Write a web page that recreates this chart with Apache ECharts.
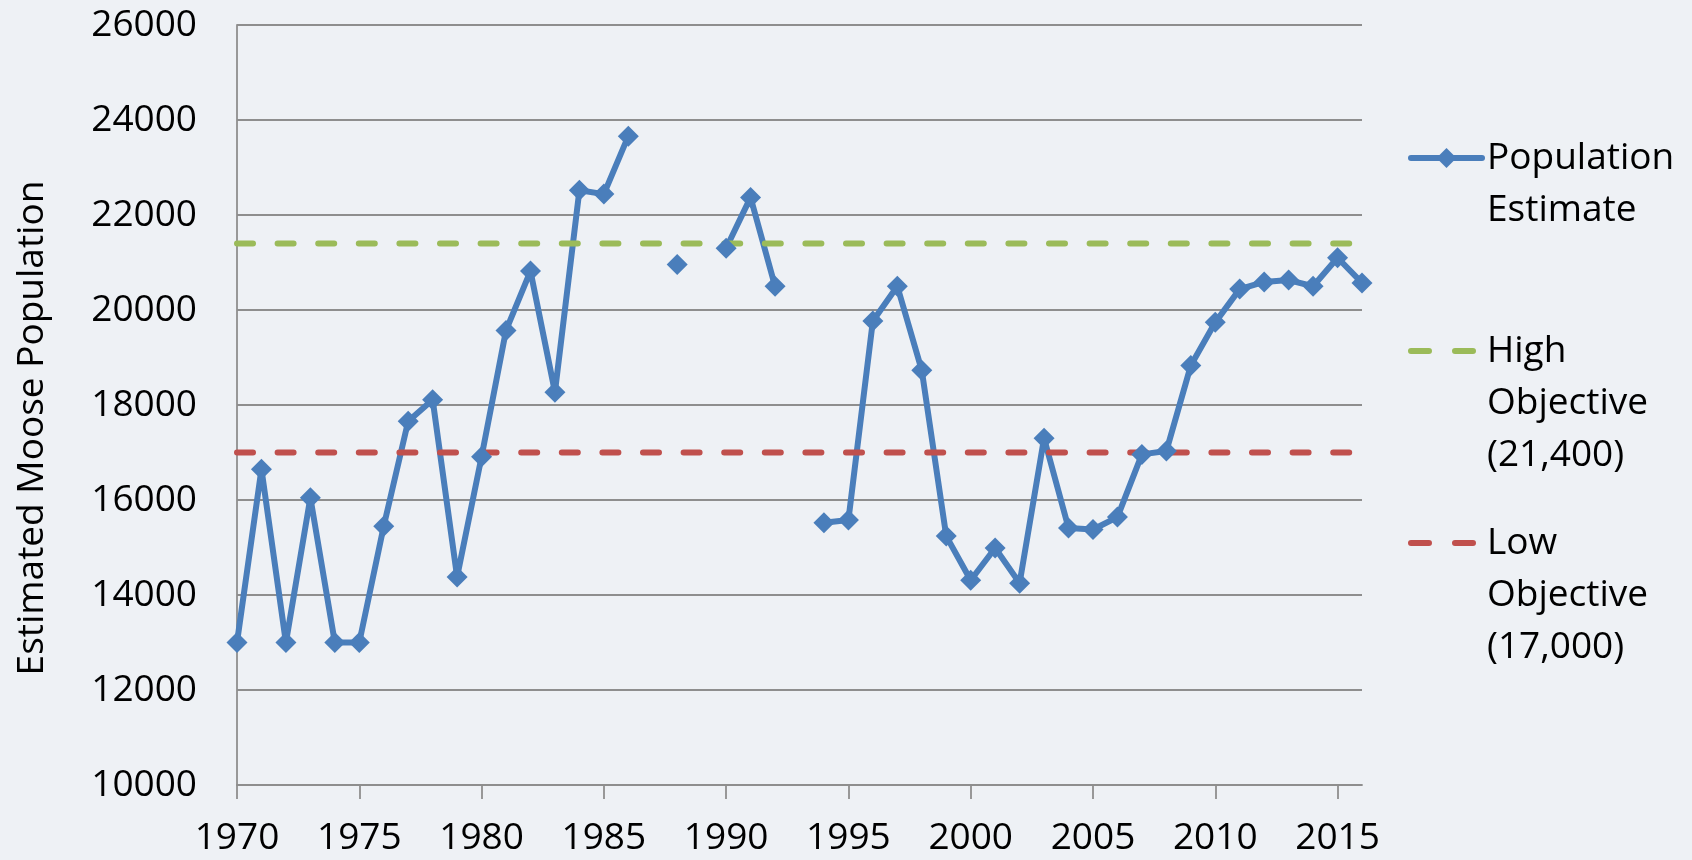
<!DOCTYPE html>
<html>
<head>
<meta charset="utf-8">
<script src="https://cdn.jsdelivr.net/npm/echarts@6/dist/echarts.min.js"></script>
<style>
html,body{margin:0;padding:0;background:#eef1f5;}
#chart{width:1692px;height:860px;}
</style>
</head>
<body>
<div id="chart"></div>
<script>
// ---- data ----
const years = [
  1970,1971,1972,1973,1974,1975,1976,1977,1978,1979,
  1980,1981,1982,1983,1984,1985,1986,1987,1988,1989,
  1990,1991,1992,1993,1994,1995,1996,1997,1998,1999,
  2000,2001,2002,2003,2004,2005,2006,2007,2008,2009,
  2010,2011,2012,2013,2014,2015,2016
];
const populationEstimate = [
  13000,16650,13000,16050,13000,13000,15450,17660,18110,14380,
  16910,19570,20820,18270,22520,22440,23660,null,20960,null,
  21300,22370,20500,null,15520,15580,19770,20500,18730,15240,
  14310,14990,14250,17300,15410,15380,15640,16960,17030,18830,
  19740,20440,20590,20630,20500,21100,20570
];
const highObjective = 21400;
const lowObjective = 17000;
const xTickYears = [1970,1975,1980,1985,1990,1995,2000,2005,2010,2015];
const yMin = 10000, yMax = 26000, yStep = 2000;
const seriesNames = ['Population\nEstimate', 'High\nObjective\n(21,400)', 'Low\nObjective\n(17,000)'];
const axisTitle = 'Estimated Moose Population';

// ---- chart ----
const FONT = '"Open Sans", "Liberation Sans", sans-serif';
const FS = 37;
const GRAY = '#8e8e8e';
const LW = 6;
const DASH = [16, 24.6];
const popData = years.map((y, i) => [y, populationEstimate[i]]);
const first = years[0], last = years[years.length - 1];
const highData = [[first, highObjective], [last, highObjective]];
const lowData = [[first, lowObjective], [last, lowObjective]];

// Legend entries: icon aligned with the first text line (blank lines prepended so the
// first real line sits at the vertical centre of the label block).
function legendFor(name, firstLineCenter, dashed, color) {
  const n = name.split('\n').length;
  const total = 2 * n - 1;
  const l = {
    orient: 'vertical', left: 1408, top: firstLineCenter - total * 26, padding: 0,
    itemWidth: 71, itemHeight: 25,
    data: [name],
    selectedMode: false,
    formatter: nm => '\n'.repeat(n - 1) + nm,
    textStyle: { fontFamily: FONT, fontSize: FS, color: '#000', lineHeight: 52 },
    lineStyle: dashed ? { width: LW, type: [18, 26], cap: 'round', color: color }
                      : { width: LW, cap: 'round', color: color }
  };
  if (dashed) l.itemStyle = { opacity: 0 };
  return l;
}

const chart = echarts.init(document.getElementById('chart'));
chart.setOption({
  animation: false,
  backgroundColor: '#eef1f5',
  grid: { left: 237, right: 330, top: 25, bottom: 75 },
  xAxis: {
    type: 'value', min: first, max: last, interval: 5,
    axisLine: { show: true, onZero: false, lineStyle: { color: GRAY, width: 1.8 } },
    axisTick: { show: true, length: 14, customValues: xTickYears, lineStyle: { color: GRAY, width: 1.8 } },
    axisLabel: { customValues: xTickYears, formatter: v => String(v), margin: 35,
                 fontFamily: FONT, fontSize: FS, color: '#000' },
    splitLine: { show: false }
  },
  yAxis: {
    type: 'value', min: yMin, max: yMax, interval: yStep,
    name: axisTitle, nameLocation: 'middle', nameRotate: 90, nameGap: 186,
    nameTextStyle: { fontFamily: FONT, fontSize: 37, color: '#000', padding: [0, 46, 0, 0] },
    axisLine: { show: true, lineStyle: { color: GRAY, width: 1.8 } },
    axisTick: { show: false },
    axisLabel: { margin: 40, formatter: v => String(v), fontFamily: FONT, fontSize: FS, color: '#000' },
    splitLine: { show: true, lineStyle: { color: GRAY, width: 1.8 } }
  },
  legend: [
    legendFor(seriesNames[0], 158, false, '#4A7EBB'),
    legendFor(seriesNames[1], 351, true, '#9BBB59'),
    legendFor(seriesNames[2], 543, true, '#C0504D')
  ],
  series: [
    {
      name: seriesNames[0], type: 'line', data: popData, connectNulls: false,
      symbol: 'diamond', symbolSize: 21, showAllSymbol: true,
      lineStyle: { color: '#4A7EBB', width: LW },
      itemStyle: { color: '#4A7EBB' }
    },
    {
      name: seriesNames[1], type: 'line', data: highData, symbol: 'none',
      lineStyle: { color: '#9BBB59', width: LW, type: DASH, cap: 'round' },
      itemStyle: { color: '#9BBB59' }
    },
    {
      name: seriesNames[2], type: 'line', data: lowData, symbol: 'none',
      lineStyle: { color: '#C0504D', width: LW, type: DASH, cap: 'round' },
      itemStyle: { color: '#C0504D' }
    }
  ]
});
</script>
</body>
</html>
